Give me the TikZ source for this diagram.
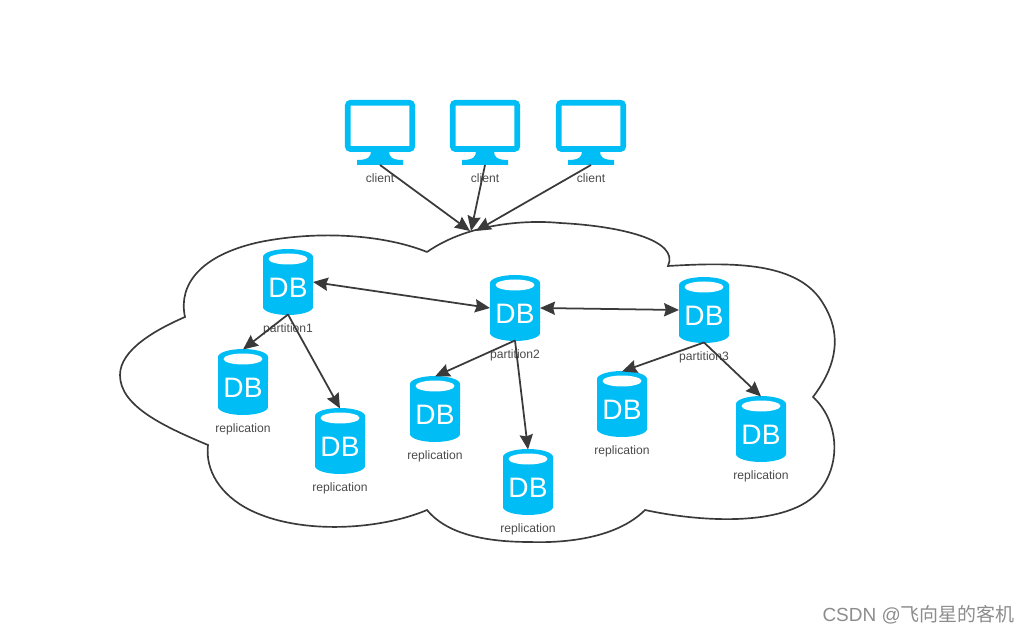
\documentclass[tikz,border=0pt]{standalone}
\usepackage{fontspec}
\setmainfont{Liberation Sans}
\newfontfamily\cjkfont{Noto Sans CJK SC}
\usetikzlibrary{arrows.meta,positioning}
\definecolor{dbblue}{HTML}{00BEF5}
\definecolor{linegray}{HTML}{3A3A3A}
\definecolor{textgray}{HTML}{4A4A4A}
\definecolor{markgray}{HTML}{8C8C8C}
\tikzset{
  dbnode/.style={minimum width=1cm,minimum height=1.3cm,inner sep=0pt,outer sep=0pt,
    text=white,font=\fontsize{16}{17}\selectfont},
  clientnode/.style={minimum width=1.4cm,minimum height=1.3cm,inner sep=0pt,outer sep=0pt},
  tag/.style={text=textgray,inner sep=0pt,font=\fontsize{6.9}{8}\selectfont},
  link/.style={draw=linegray,line width=1pt},
}
\begin{document}
\begin{tikzpicture}[
  x=0.02cm,y=-0.02cm,
  >={Stealth[length=8.5pt,width=7.5pt,inset=1pt]},
]
\useasboundingbox (0,0) rectangle (1030,634);

% cloud
\draw[draw=linegray,line width=0.95pt] (427,252)
  .. controls (470,222) and (530,220) .. (560,223)
  .. controls (620,226) and (680,240) .. (668,266)
  .. controls (735,262) and (800,262) .. (824,305)
  .. controls (845,340) and (832,372) .. (813,397)
  .. controls (838,420) and (842,462) .. (820,490)
  .. controls (790,528) and (700,522) .. (645,510)
  .. controls (615,540) and (560,543) .. (530,542)
  .. controls (480,542) and (445,532) .. (427,510)
  .. controls (380,530) and (300,535) .. (250,510)
  .. controls (220,495) and (205,470) .. (208,445)
  .. controls (160,425) and (120,405) .. (120,375)
  .. controls (120,350) and (155,330) .. (185,317)
  .. controls (178,285) and (200,255) .. (260,242)
  .. controls (320,230) and (385,235) .. (427,252);

% clients
\foreach \name/\x in {c1/380,c2/485,c3/591} {
  \draw[dbblue,line width=3.2pt,rounded corners=1.5pt] (\x-32.2,102.8) rectangle (\x+32.2,149);
  \fill[dbblue] (\x-9,151) -- (\x+9,151) .. controls (\x+9,157) and (\x+12,160) .. (\x+23,160)
    -- (\x+23,165) -- (\x-23,165) -- (\x-23,160) .. controls (\x-12,160) and (\x-9,157) .. (\x-9,151) -- cycle;
  \node[clientnode] (\name) at (\x,132.5) {};
  \node[tag] (\name tag) at (\x,178.5) {client};
}

% databases
\foreach \name/\x/\y/\txt in {
  p1/288/282/partition1,p2/515/308/partition2,p3/704/310/partition3,
  r1/243/382/replication,r2/340/441/replication,r3/435/409/replication,
  r4/528/482/replication,r5/622/404/replication,r6/761/429/replication} {
  \fill[dbblue] (\x-25,\y-25) -- (\x-25,\y+25) arc[start angle=180,end angle=360,x radius=0.5cm,y radius=0.16cm]
    -- (\x+25,\y-25) arc[start angle=0,end angle=180,x radius=0.5cm,y radius=0.16cm] -- cycle;
  \fill[white] (\x,\y-23) ellipse[x radius=0.39cm,y radius=0.11cm];
  \node[dbnode] (\name) at (\x,\y) {\raisebox{-9pt}[0pt][0pt]{DB}};
  \node[tag] (\name tag) at (\x,\y+47) {\txt};
}

\coordinate (in1) at (470,231);
\coordinate (in2) at (471,231);
\coordinate (in3) at (476,231);

\draw[link,->] (c1.south) -- (in1);
\draw[link,->] (c2.south) -- (in2);
\draw[link,->] (c3.south) -- (in3);

\draw[link,<->] (p1.east) -- (p2.west);
\draw[link,<->] (p2.east) -- (p3.west);

\draw[link,->] (p1.south) -- (r1.north);
\draw[link,->] (p1.south) -- (r2.north);
\draw[link,->] (p2.south) -- (r3.north);
\draw[link,->] (p2.south) -- (r4.north);
\draw[link,->] (p3.south) -- (r5.north);
\draw[link,->] (p3.south) -- (r6.north);

\node[text=markgray,inner sep=0pt,anchor=east,font=\fontsize{10.8}{12}\selectfont] (mark) at (1015,615)
  {CSDN @{\cjkfont 飞向星的客机}};
\end{tikzpicture}
\end{document}
